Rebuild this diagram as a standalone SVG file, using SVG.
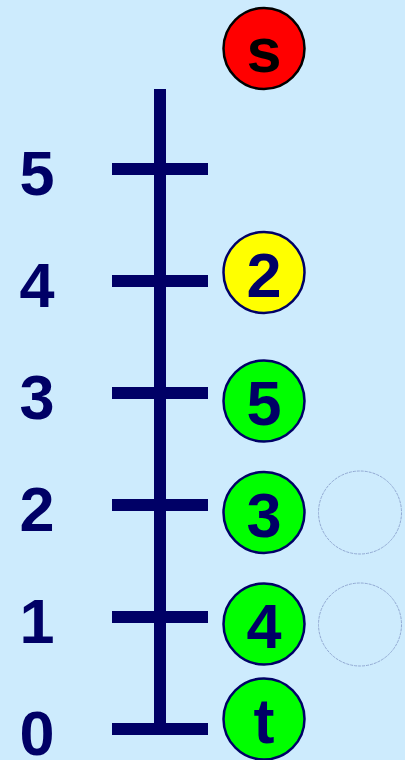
<svg xmlns="http://www.w3.org/2000/svg" width="405" height="760" viewBox="0 0 405 760">
<style>
.lbl{font-family:"Liberation Sans",Arial,sans-serif;font-weight:bold;font-size:63px;fill:#000066;text-anchor:middle}
.bar{fill:#000066}
.node{stroke:#000066;stroke-width:2.5}
.ghost{fill:none;stroke:#92a9d2;stroke-width:1;stroke-dasharray:3 1}
</style>
<rect width="405" height="760" fill="#cdebfd"/>
<g id="axis">
<rect class="bar" x="154" y="89" width="12" height="646"/>
<rect class="bar" x="112" y="163" width="96" height="12"/>
<rect class="bar" x="112" y="275" width="96" height="12"/>
<rect class="bar" x="112" y="387" width="96" height="12"/>
<rect class="bar" x="112" y="499" width="96" height="12"/>
<rect class="bar" x="112" y="611" width="96" height="12"/>
<rect class="bar" x="112" y="723" width="96" height="12"/>
<text class="lbl" x="37" y="195">5</text>
<text class="lbl" x="37" y="307">4</text>
<text class="lbl" x="37" y="419">3</text>
<text class="lbl" x="37" y="531">2</text>
<text class="lbl" x="37" y="643">1</text>
<text class="lbl" x="37" y="755">0</text>
</g>
<g id="connectors"></g>
<g id="node-s"><circle cx="264" cy="48.5" r="40.5" fill="#ff0000" stroke="#000000" stroke-width="2.5"/><text class="lbl" x="264" y="72" style="fill:#000000">s</text></g>
<g id="node-2"><circle class="node" cx="264" cy="272.5" r="40.5" fill="#ffff00"/><text class="lbl" x="264" y="297">2</text></g>
<g id="node-5"><circle class="node" cx="264" cy="401" r="40.5" fill="#00ff00"/><text class="lbl" x="264" y="425">5</text></g>
<g id="node-3"><circle class="node" cx="264" cy="512.5" r="40.5" fill="#00ff00"/><text class="lbl" x="264" y="537">3</text></g>
<g id="node-4"><circle class="node" cx="264" cy="624" r="40.5" fill="#00ff00"/><text class="lbl" x="264" y="648">4</text></g>
<g id="node-t"><circle class="node" cx="264" cy="719" r="40.5" fill="#00ff00"/><text class="lbl" x="264" y="743">t</text></g>
<g id="ghost-1"><circle class="ghost" cx="360" cy="512.5" r="41.5"/></g>
<g id="ghost-2"><circle class="ghost" cx="360" cy="624.5" r="41.5"/></g>
</svg>
